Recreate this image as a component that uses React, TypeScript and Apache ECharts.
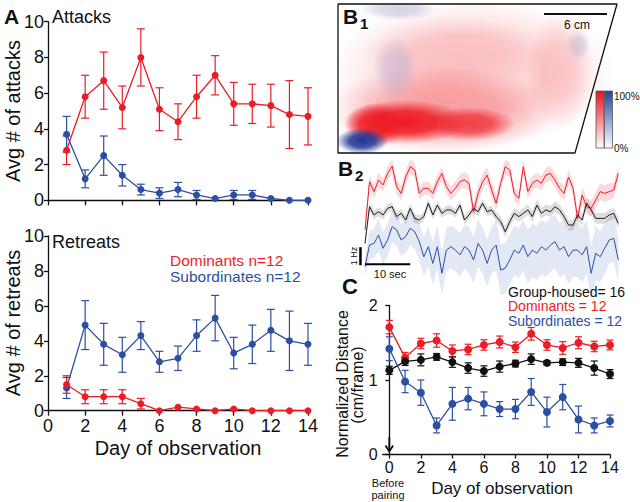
import React, { useEffect, useRef } from "react";
import * as echarts from "echarts";

const FONT = '"Liberation Sans", Arial, Helvetica, sans-serif';
const RED = "#ea1d27";
const BLUE = "#2c4fa3";
const BLACK = "#111111";

// ---------- Panel A data ----------
const days = [1, 2, 3, 4, 5, 6, 7, 8, 9, 10, 11, 12, 13, 14];
const attacksDom = [2.8, 5.8, 6.7, 5.2, 8.0, 5.1, 4.4, 5.8, 7.0, 5.4, 5.4, 5.3, 4.8, 4.7];
const attacksDomErr = [0.8, 1.2, 1.6, 1.2, 1.6, 1.2, 1.0, 1.2, 1.1, 1.2, 1.1, 1.2, 1.9, 1.6];
const attacksSub = [3.7, 1.2, 2.5, 1.4, 0.6, 0.4, 0.6, 0.3, 0.1, 0.3, 0.3, 0.1, 0.0, 0.0];
const attacksSubErr = [1.0, 0.5, 1.1, 0.6, 0.3, 0.3, 0.4, 0.25, 0, 0.25, 0.25, 0, 0, 0];
const retreatsDom = [1.5, 0.8, 0.8, 0.8, 0.4, 0.0, 0.2, 0.1, 0.0, 0.1, 0.0, 0.0, 0.0, 0.0];
const retreatsDomErr = [0.5, 0.4, 0.4, 0.4, 0.3, 0, 0, 0, 0, 0, 0, 0, 0, 0];
const retreatsSub = [1.3, 4.9, 3.8, 3.2, 4.3, 2.8, 3.0, 4.3, 5.3, 3.3, 3.8, 4.6, 4.0, 3.8];
const retreatsSubErr = [0.6, 1.4, 1.2, 1.0, 0.8, 0.6, 0.7, 0.9, 1.3, 0.9, 1.1, 1.2, 1.7, 1.2];

// ---------- Panel C data ----------
const cDays = [0, 1, 2, 3, 4, 5, 6, 7, 8, 9, 10, 11, 12, 13, 14];
const distDom = [1.71, 1.3, 1.49, 1.53, 1.39, 1.41, 1.47, 1.51, 1.44, 1.62, 1.47, 1.43, 1.5, 1.45, 1.47];
const distDomErr = [0.09, 0.07, 0.07, 0.09, 0.08, 0.07, 0.07, 0.08, 0.07, 0.085, 0.07, 0.085, 0.08, 0.07, 0.065];
const distGroup = [1.13, 1.25, 1.27, 1.31, 1.24, 1.16, 1.12, 1.18, 1.22, 1.28, 1.23, 1.24, 1.23, 1.16, 1.08];
const distGroupErr = [0.055, 0.055, 0.08, 0.045, 0.07, 0.07, 0.07, 0.075, 0.045, 0.07, 0.03, 0.045, 0.06, 0.095, 0.06];
const distSub = [1.42, 0.98, 0.83, 0.39, 0.68, 0.75, 0.68, 0.61, 0.61, 0.84, 0.57, 0.77, 0.47, 0.39, 0.45];
const distSubErr = [0.16, 0.15, 0.17, 0.1, 0.22, 0.15, 0.16, 0.1, 0.13, 0.18, 0.2, 0.17, 0.18, 0.1, 0.08];
const cTicks = [0, 2, 4, 6, 8, 10, 12, 14];

// ---------- Panel B2 data (Hz, one value per second) ----------
const traceDom = [3.06, 5.74, 5.19, 5.83, 5.56, 6.2, 6.6, 5.46, 5.09, 6.0, 6.57, 6.39, 5.09, 5.37, 5.37, 5.09, 5.74, 6.2, 5.46, 5.09, 5.37, 5.74, 5.83, 5.65, 4.07, 5.09, 5.74, 6.11, 5.28, 4.54, 5.65, 6.57, 6.39, 5.09, 4.81, 6.57, 5.19, 5.65, 5.83, 5.65, 6.11, 6.2, 5.83, 5.37, 5.09, 6.0, 5.37, 3.7, 5.0, 4.35, 4.26, 4.72, 5.19, 5.09, 5.19, 5.28, 6.2];
const traceGroup = [2.31, 4.35, 3.89, 4.07, 3.89, 4.26, 4.35, 3.8, 3.98, 3.61, 4.26, 3.7, 3.61, 3.8, 4.54, 3.89, 4.44, 3.98, 4.17, 4.17, 3.98, 4.44, 3.61, 3.89, 4.26, 4.07, 4.54, 4.07, 4.17, 3.8, 3.52, 2.96, 3.52, 3.98, 3.8, 3.98, 4.17, 3.8, 4.44, 3.98, 4.17, 4.07, 4.35, 4.17, 3.8, 3.33, 3.33, 3.89, 3.61, 4.54, 4.17, 3.7, 3.7, 3.7, 3.89, 3.98, 3.43];
const traceSub = [1.02, 2.22, 2.31, 2.78, 2.04, 2.5, 3.24, 3.06, 2.5, 2.69, 3.15, 2.96, 2.41, 1.57, 2.13, 1.2, 2.13, 0.65, 1.94, 2.13, 1.94, 1.67, 2.13, 1.94, 1.39, 2.31, 1.94, 1.2, 1.94, 2.22, 0.83, 0.93, 1.39, 1.94, 1.76, 2.22, 1.57, 1.94, 1.76, 2.13, 1.94, 2.22, 2.41, 1.94, 2.13, 1.57, 1.94, 1.94, 1.67, 2.13, 0.65, 1.76, 1.57, 2.04, 2.5, 2.59, 1.39];
const bandDom = [0.3, 0.35, 0.35, 0.4, 0.35, 0.4, 0.4, 0.4, 0.4, 0.4, 0.4, 0.4, 0.35, 0.35, 0.35, 0.35, 0.4, 0.4, 0.4, 0.4, 0.4, 0.4, 0.45, 0.45, 0.45, 0.45, 0.45, 0.45, 0.45, 0.45, 0.4, 0.4, 0.4, 0.4, 0.4, 0.4, 0.4, 0.4, 0.4, 0.4, 0.4, 0.4, 0.4, 0.4, 0.4, 0.4, 0.4, 0.45, 0.45, 0.45, 0.45, 0.45, 0.45, 0.45, 0.45, 0.45, 0.4];
const bandGroup = [0.2, 0.25, 0.25, 0.25, 0.25, 0.25, 0.25, 0.25, 0.25, 0.25, 0.25, 0.25, 0.25, 0.25, 0.25, 0.25, 0.25, 0.25, 0.25, 0.25, 0.25, 0.25, 0.25, 0.25, 0.25, 0.25, 0.25, 0.25, 0.25, 0.25, 0.3, 0.3, 0.3, 0.3, 0.3, 0.3, 0.3, 0.3, 0.3, 0.3, 0.3, 0.3, 0.3, 0.3, 0.3, 0.3, 0.3, 0.3, 0.3, 0.3, 0.3, 0.3, 0.3, 0.3, 0.3, 0.3, 0.3];
const bandSub = [0.5, 0.8, 0.8, 0.9, 0.9, 0.9, 0.9, 0.9, 0.9, 0.9, 0.9, 1.0, 1.0, 1.1, 1.1, 1.2, 1.2, 1.2, 1.2, 1.2, 1.2, 1.2, 1.2, 1.3, 1.3, 1.3, 1.3, 1.3, 1.3, 1.4, 1.4, 1.4, 1.4, 1.4, 1.4, 1.4, 1.5, 1.5, 1.5, 1.5, 1.5, 1.5, 1.5, 1.5, 1.5, 1.5, 1.5, 1.5, 1.5, 1.5, 1.5, 1.5, 1.4, 1.4, 1.3, 1.3, 1.2];
const hzBarX = [-1, -1];
const hzBarY = [1.1, 2.1];
const secBarX = [0, 10];
const secBarY = [1.15, 1.15];

// ---------- Panel B1 data (arena in cm) ----------
const arenaX = [0, 26.57, 22.57, 0, 0];
const arenaY = [14.19, 14.19, 0, 0, 14.19];
const blobX = [12.8, 9.71, 21.14, 11.0, 6.38, 12.57, 3.52, 2.29, 5.71, 5.43, 22.86];
const blobY = [7.6, 4.1, 7.9, 9.5, 2.95, 2.76, 2.67, 1.14, 13.71, 8.1, 10.29];
const blobRx = [13.6, 11.0, 3.2, 9.0, 5.9, 4.29, 2.86, 2.48, 3.6, 2.1, 1.15];
const blobRy = [7.2, 4.2, 5.6, 3.5, 2.1, 1.62, 2.1, 1.24, 1.1, 3.0, 1.45];
const blobLevel = [0.2, 0.32, 0.16, 0.12, 1.0, 0.75, 0.9, 1.0, 0.5, 0.45, 0.42];
const blobGroup = ["dom", "dom", "dom", "dom", "dom", "dom", "dom", "sub", "mix", "mix", "mix"];

const blobRGB: Record<string, string> = {
  dom: "238,28,36",
  sub: "35,55,150",
  mix: "175,170,210",
};

function errRender(capHalf: number, color: string, lw: number) {
  return (params: any, api: any) => {
    const x = api.value(0);
    const lo = api.value(1);
    const hi = api.value(2);
    if (!(hi - lo > 0)) return { type: "group", children: [] };
    const p1 = api.coord([x, hi]);
    const p2 = api.coord([x, lo]);
    const st = { stroke: color, lineWidth: lw };
    return {
      type: "group",
      children: [
        { type: "line", shape: { x1: p1[0], y1: p1[1], x2: p2[0], y2: p2[1] }, style: st },
        { type: "line", shape: { x1: p1[0] - capHalf, y1: p1[1], x2: p1[0] + capHalf, y2: p1[1] }, style: st },
        { type: "line", shape: { x1: p2[0] - capHalf, y1: p2[1], x2: p2[0] + capHalf, y2: p2[1] }, style: st },
      ],
    };
  };
}

function errSeries(name: string, xs: number[], ys: number[], es: number[], xi: number, color: string, cap: number) {
  return {
    type: "custom",
    name,
    xAxisIndex: xi,
    yAxisIndex: xi,
    renderItem: errRender(cap, color, 1.2),
    encode: { x: 0, y: [1, 2] },
    data: xs.map((x, i) => [x, ys[i] - es[i], ys[i] + es[i]]),
    clip: false,
    z: 2,
  };
}

function lineSeries(name: string, xs: number[], ys: number[], xi: number, color: string, size: number) {
  return {
    type: "line",
    name,
    xAxisIndex: xi,
    yAxisIndex: xi,
    data: xs.map((x, i) => [x, ys[i]]),
    symbol: "circle",
    symbolSize: size,
    itemStyle: { color },
    lineStyle: { color, width: 1.3 },
    clip: false,
    z: 3,
  };
}

function bandSeries(name: string, ys: number[], band: number[], fill: string) {
  return {
    type: "custom",
    name,
    xAxisIndex: 3,
    yAxisIndex: 3,
    data: [[0, ys[0]]],
    encode: { x: 0, y: 1 },
    silent: true,
    clip: false,
    z: 1,
    renderItem: (params: any, api: any) => {
      const up = ys.map((y, i) => api.coord([i, y + band[i]]));
      const lo = ys.map((y, i) => api.coord([i, y - band[i]])).reverse();
      return { type: "polygon", shape: { points: up.concat(lo) }, style: { fill } };
    },
  };
}

function traceSeries(name: string, ys: number[], color: string) {
  return {
    type: "line",
    name,
    xAxisIndex: 3,
    yAxisIndex: 3,
    data: ys.map((y, i) => [i, y]),
    symbol: "none",
    lineStyle: { color, width: 1 },
    z: 2,
  };
}

const axisBase = {
  axisLine: { lineStyle: { color: BLACK, width: 1.3 } },
  axisTick: { length: 4, lineStyle: { color: BLACK, width: 1.3 } },
  splitLine: { show: false },
};

function txt(text: string, x: number, y: number, size: number, color = BLACK, opts: any = {}) {
  return {
    type: "text",
    x,
    y,
    rotation: opts.rotation || 0,
    z: 50,
    style: {
      text,
      fill: color,
      font: `${opts.bold ? "bold " : ""}${size}px ${FONT}`,
      align: opts.align || "left",
      verticalAlign: "middle",
    },
  };
}

export default function App() {
  const ref = useRef<HTMLDivElement>(null);
  useEffect(() => {
    if (!ref.current) return;
    const chart = echarts.init(ref.current, null, { renderer: "svg" });

    const blobData = blobX.map((x, i) => [x, blobY[i], blobRx[i], blobRy[i], blobLevel[i], i]);

    const option: any = {
      animation: false,
      backgroundColor: "#ffffff",
      grid: [
        { left: 48, top: 21.7, width: 260, height: 178.6 },
        { left: 48, top: 236, width: 260, height: 174.7 },
        { left: 382.7, top: 305.5, width: 227.3, height: 149 },
        { left: 358.2, top: 155, width: 260.1, height: 130 },
        { left: 338, top: 4, width: 279, height: 149 },
      ],
      xAxis: [
        {
          ...axisBase,
          type: "value",
          gridIndex: 0,
          min: 0,
          max: 14,
          interval: 2,
          axisTick: { length: 5, lineStyle: { color: BLACK, width: 1.3 } },
          axisLabel: { show: false },
        },
        {
          ...axisBase,
          type: "value",
          gridIndex: 1,
          min: 0,
          max: 14,
          interval: 2,
          axisTick: { length: 5, lineStyle: { color: BLACK, width: 1.3 } },
          axisLabel: { color: BLACK, fontSize: 18, fontFamily: FONT, margin: 6 },
        },
        {
          ...axisBase,
          type: "value",
          gridIndex: 2,
          min: -0.42,
          max: 14,
          axisTick: { length: 4, customValues: cTicks, lineStyle: { color: BLACK, width: 1.3 } },
          axisLabel: { color: BLACK, fontSize: 16, fontFamily: FONT, margin: 5, customValues: cTicks },
        },
        { type: "value", gridIndex: 3, min: -1.5, max: 56, show: false },
        { type: "value", gridIndex: 4, min: 0, max: 26.57, show: false },
      ],
      yAxis: [
        {
          ...axisBase,
          type: "value",
          gridIndex: 0,
          min: 0,
          max: 10,
          interval: 2,
          axisLabel: { color: BLACK, fontSize: 18, fontFamily: FONT, margin: 4 },
        },
        {
          ...axisBase,
          type: "value",
          gridIndex: 1,
          min: 0,
          max: 10,
          interval: 2,
          axisLabel: { color: BLACK, fontSize: 18, fontFamily: FONT, margin: 4 },
        },
        {
          ...axisBase,
          type: "value",
          gridIndex: 2,
          min: 0,
          max: 2,
          interval: 1,
          axisLabel: { color: BLACK, fontSize: 16, fontFamily: FONT, margin: 5 },
        },
        { type: "value", gridIndex: 3, min: 0, max: 130 / 18, show: false },
        { type: "value", gridIndex: 4, min: 0, max: 14.19, show: false },
      ],
      series: [
        // Panel A attacks
        errSeries("Dominants err A", days, attacksDom, attacksDomErr, 0, RED, 4),
        errSeries("Subordinates err A", days, attacksSub, attacksSubErr, 0, BLUE, 4),
        lineSeries("Dominants attacks", days, attacksDom, 0, RED, 7),
        lineSeries("Subordinates attacks", days, attacksSub, 0, BLUE, 7),
        // Panel A retreats
        errSeries("Subordinates err R", days, retreatsSub, retreatsSubErr, 1, BLUE, 4),
        errSeries("Dominants err R", days, retreatsDom, retreatsDomErr, 1, RED, 4),
        lineSeries("Subordinates retreats", days, retreatsSub, 1, BLUE, 7),
        lineSeries("Dominants retreats", days, retreatsDom, 1, RED, 7),
        // Panel C
        errSeries("Dominants err C", cDays, distDom, distDomErr, 2, RED, 3.5),
        errSeries("Group err C", cDays, distGroup, distGroupErr, 2, BLACK, 3.5),
        errSeries("Subordinates err C", cDays, distSub, distSubErr, 2, BLUE, 3.5),
        lineSeries("Dominants = 12", cDays, distDom, 2, RED, 8),
        lineSeries("Group-housed= 16", cDays, distGroup, 2, BLACK, 8),
        lineSeries("Subordinates = 12", cDays, distSub, 2, BLUE, 8),
        // Panel B2
        bandSeries("Subordinates band", traceSub, bandSub, "rgba(80,110,195,0.16)"),
        bandSeries("Group band", traceGroup, bandGroup, "rgba(0,0,0,0.13)"),
        bandSeries("Dominants band", traceDom, bandDom, "rgba(240,70,80,0.2)"),
        traceSeries("Dominants trace", traceDom, RED),
        traceSeries("Group trace", traceGroup, "#1a1a1a"),
        traceSeries("Subordinates trace", traceSub, BLUE),
        {
          type: "line",
          name: "1 Hz bar",
          xAxisIndex: 3,
          yAxisIndex: 3,
          data: hzBarX.map((x, i) => [x, hzBarY[i]]),
          symbol: "none",
          lineStyle: { color: "#000", width: 2.5 },
          clip: false,
          z: 5,
        },
        {
          type: "line",
          name: "10 sec bar",
          xAxisIndex: 3,
          yAxisIndex: 3,
          data: secBarX.map((x, i) => [x, secBarY[i]]),
          symbol: "none",
          lineStyle: { color: "#000", width: 2 },
          clip: false,
          z: 5,
        },
        // Panel B1 heat blobs
        {
          type: "custom",
          name: "occupancy",
          xAxisIndex: 4,
          yAxisIndex: 4,
          clip: true,
          data: blobData,
          encode: { x: 0, y: 1 },
          renderItem: (params: any, api: any) => {
            const c = api.coord([api.value(0), api.value(1)]);
            const s = api.size([api.value(2), api.value(3)]);
            const lv = api.value(4);
            const rgb = blobRGB[blobGroup[api.value(5)]];
            return {
              type: "ellipse",
              shape: { cx: c[0], cy: c[1], rx: s[0], ry: s[1] },
              style: {
                fill: new echarts.graphic.RadialGradient(0.5, 0.5, 0.5, [
                  { offset: 0, color: `rgba(${rgb},${lv})` },
                  { offset: 0.5, color: `rgba(${rgb},${lv * 0.85})` },
                  { offset: 1, color: `rgba(${rgb},0)` },
                ]),
              },
            };
          },
          z: 1,
        },
        {
          type: "line",
          name: "arena",
          xAxisIndex: 4,
          yAxisIndex: 4,
          data: arenaX.map((x, i) => [x, arenaY[i]]),
          symbol: "none",
          lineStyle: { color: "#111", width: 1.3 },
          clip: false,
          z: 4,
        },
      ],
      graphic: [
        // Panel A texts
        txt("A", 4, 16, 21, BLACK, { bold: true }),
        txt("Attacks", 52, 17, 18),
        txt("Retreats", 52, 242, 18),
        txt("Dominants n=12", 170, 260.5, 15.5, RED),
        txt("Subordinates n=12", 170, 276.5, 15.5, BLUE),
        txt("Avg # of attacks", 13, 111, 20, BLACK, { align: "center", rotation: Math.PI / 2 }),
        txt("Avg # of retreats", 13, 323, 20, BLACK, { align: "center", rotation: Math.PI / 2 }),
        txt("Day of observation", 178, 448, 20, BLACK, { align: "center" }),
        // Panel B1
        txt("B", 343, 16, 21, BLACK, { bold: true }),
        txt("1", 360, 23, 15, BLACK, { bold: true }),
        { type: "line", z: 50, shape: { x1: 544, y1: 14, x2: 607, y2: 14 }, style: { stroke: "#111", lineWidth: 1.8 } },
        txt("6 cm", 577, 25, 12, BLACK, { align: "center" }),
        {
          type: "rect",
          z: 50,
          shape: { x: 596, y: 91, width: 8, height: 57 },
          style: {
            fill: new echarts.graphic.LinearGradient(0, 0, 0, 1, [
              { offset: 0, color: "#e8141c" },
              { offset: 1, color: "#ffffff" },
            ]),
            stroke: "#555",
            lineWidth: 0.8,
          },
        },
        {
          type: "rect",
          z: 50,
          shape: { x: 604.5, y: 91, width: 8, height: 57 },
          style: {
            fill: new echarts.graphic.LinearGradient(0, 0, 0, 1, [
              { offset: 0, color: "#23449b" },
              { offset: 1, color: "#ffffff" },
            ]),
            stroke: "#555",
            lineWidth: 0.8,
          },
        },
        txt("100%", 614, 96, 10),
        txt("0%", 614, 148, 10),
        // Panel B2
        txt("B", 338, 168, 21, BLACK, { bold: true }),
        txt("2", 355, 175, 15, BLACK, { bold: true }),
        txt("1 Hz", 354, 256, 9, BLACK, { align: "center", rotation: Math.PI / 2 }),
        txt("10 sec", 390, 274, 11, BLACK, { align: "center" }),
        // Panel C
        txt("C", 342, 286, 22, BLACK, { bold: true }),
        txt("Group-housed= 16", 508, 291.5, 14, BLACK),
        txt("Dominants = 12", 508, 306, 14, RED),
        txt("Subordinates = 12", 508, 321, 14, BLUE),
        txt("Normalized Distance", 342, 384, 16, BLACK, { align: "center", rotation: Math.PI / 2 }),
        txt("(cm/frame)", 357, 385, 16, BLACK, { align: "center", rotation: Math.PI / 2 }),
        txt("Day of observation", 502, 488, 17, BLACK, { align: "center" }),
        txt("Before", 388, 482.5, 11, BLACK, { align: "center" }),
        txt("pairing", 388, 495, 11, BLACK, { align: "center" }),
        { type: "line", z: 50, shape: { x1: 389.3, y1: 437, x2: 389.3, y2: 451 }, style: { stroke: "#111", lineWidth: 1.8 } },
        {
          type: "polyline",
          z: 50,
          shape: { points: [[385.5, 445.5], [389.3, 451.5], [393.1, 445.5]] },
          style: { stroke: "#111", lineWidth: 1.8, fill: "none" },
        },
      ],
    };

    chart.setOption(option);
    return () => chart.dispose();
  }, []);

  return (
    <div
      ref={ref}
      style={{ position: "fixed", left: 0, top: 0, width: 640, height: 502, background: "#fff" }}
    />
  );
}
